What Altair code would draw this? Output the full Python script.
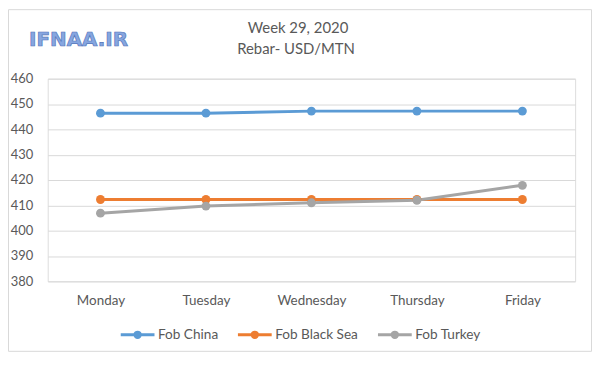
import altair as alt
import pandas as pd

days = ["Monday", "Tuesday", "Wednesday", "Thursday", "Friday"]
series = ["Fob China", "Fob Black Sea", "Fob Turkey"]
fob_china = [446.4, 446.4, 447.2, 447.2, 447.2]
fob_black_sea = [412.3, 412.3, 412.3, 412.3, 412.3]
fob_turkey = [406.9, 409.7, 411.0, 412.0, 417.9]
colors = ["#5B9BD5", "#ED7D31", "#A5A5A5"]
y_ticks = [380, 390, 400, 410, 420, 430, 440, 450, 460]
title_lines = ["Week 29, 2020", "Rebar- USD/MTN"]
logo_text = ["IFNAA.IR"]

rows = []
for name, vals in zip(series, [fob_china, fob_black_sea, fob_turkey]):
    for d, v in zip(days, vals):
        rows.append({"day": d, "series": name, "value": v})
df = pd.DataFrame(rows)

FONT = "Lato"
TXT = "#595959"
GRID = "#D9D9D9"

x = alt.X(
    "day:N", sort=days,
    scale=alt.Scale(type="point", padding=0.5),
    axis=alt.Axis(title=None, labelAngle=0, domain=False, ticks=False, tickSize=0,
                  grid=False, labelPadding=12, labelFontSize=13.5, labelColor=TXT,
                  labelFont=FONT),
)
y = alt.Y(
    "value:Q",
    scale=alt.Scale(domain=[380, 460], nice=False, zero=False),
    axis=alt.Axis(title=None, values=y_ticks, domain=False, ticks=False, tickSize=0,
                  grid=True, gridColor=GRID, gridWidth=1, labelPadding=15,
                  labelFontSize=13, labelColor=TXT, labelFont=FONT),
)

legend_path = ("M-1,0H1"
               "M-0.16,0A0.16,0.16,0,1,1,0.16,0A0.16,0.16,0,1,1,-0.16,0Z"
               "M-0.05,0A0.05,0.05,0,1,1,0.05,0A0.05,0.05,0,1,1,-0.05,0Z")

color_scale = alt.Scale(domain=series, range=colors)

lines = alt.Chart(df).mark_line(strokeWidth=3).encode(
    x=x, y=y,
    color=alt.Color("series:N", sort=series, scale=color_scale,
                    legend=alt.Legend(
                        title=None, orient="none", direction="horizontal",
                        legendX=72, legendY=239,
                        symbolType=legend_path, symbolSize=1156,
                        symbolStrokeWidth=3, labelFont=FONT, labelFontSize=13.7,
                        labelColor=TXT, labelOffset=2, columnPadding=13,
                        padding=0)),
)

points = alt.Chart(df).mark_circle(size=80, opacity=1).encode(
    x=x, y=y,
    color=alt.Color("series:N", sort=series, scale=color_scale, legend=None),
)

title_df = pd.DataFrame({"t": title_lines, "row": [0, 1]})
title1 = alt.Chart(title_df.iloc[[0]]).mark_text(
    font=FONT, fontSize=15, color=TXT, align="center", baseline="alphabetic"
).encode(text="t:N", x=alt.value(252), y=alt.value(-46))
title2 = alt.Chart(title_df.iloc[[1]]).mark_text(
    font=FONT, fontSize=15, color=TXT, align="center", baseline="alphabetic"
).encode(text="t:N", x=alt.value(250), y=alt.value(-25))

logo = alt.Chart(pd.DataFrame({"t": logo_text})).mark_text(
    font="DejaVu Sans", fontWeight="bold", fontSize=20, color="#86A6E0",
    stroke="#5577BB", strokeWidth=0.7, align="center", baseline="alphabetic"
).encode(text="t:N", x=alt.value(31), y=alt.value(-33))

border = alt.Chart(pd.DataFrame({"a": [0]})).mark_rect(
    fill="transparent", stroke=GRID, strokeWidth=1
).encode(x=alt.value(-39.5), x2=alt.value(547.5), y=alt.value(-69.5), y2=alt.value(274.5))

chart = alt.layer(border, lines, points, title1, title2, logo).resolve_scale(
    color="independent"
).properties(
    width=531, height=204,
    autosize=alt.AutoSizeParams(type="none"),
    padding={"left": 40, "top": 70, "right": 17, "bottom": 71},
).configure_view(stroke="transparent").configure(background="white")

chart.save("out.html", embed_options={"renderer": "svg", "actions": False})
